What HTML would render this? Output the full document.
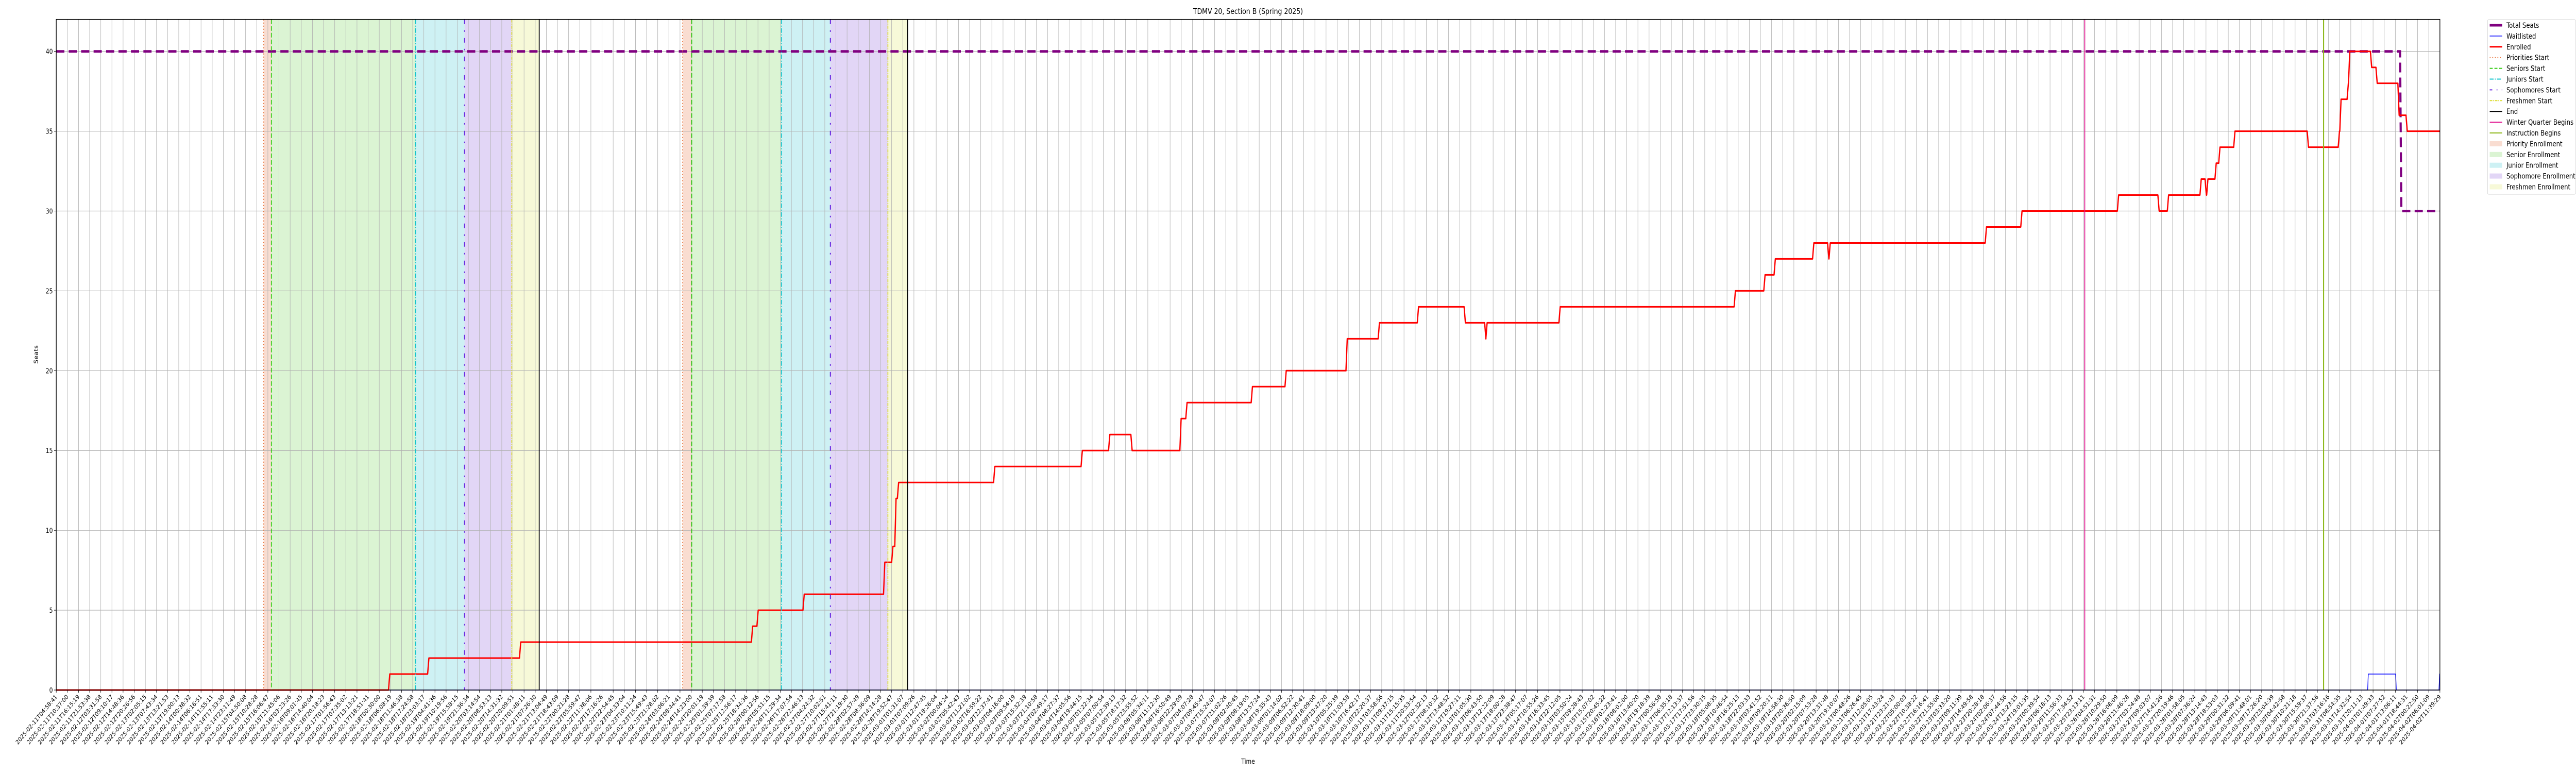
<!DOCTYPE html>
<html><head><meta charset="utf-8"><style>
html,body{margin:0;padding:0;background:#fff;width:100%;height:100%;overflow:hidden;}
svg{display:block;width:100vw;height:100vh;font-family:"DejaVu Sans","Liberation Sans",sans-serif;}
</style></head><body>
<svg id="chart" viewBox="0 0 6000 1500" preserveAspectRatio="none" xmlns="http://www.w3.org/2000/svg" overflow="hidden">
<rect width="6000" height="1500" fill="#fff"/>
<g id="shades"></g>
<g id="grid"></g>
<g id="series"></g>
<g id="vlines"></g>
<rect x="131" y="37.7" width="5552" height="1301.3" fill="none" stroke="#000" stroke-width="1.5"/>
<g id="axes"></g>
<text x="2907" y="27" font-size="15" text-anchor="middle">TDMV 20, Section B (Spring 2025)</text>
<text x="2907" y="1482" font-size="13" text-anchor="middle">Time</text>
<text x="88" y="688" font-size="13" text-anchor="middle" transform="rotate(-90 88 688)">Seats</text>
<g id="legend"></g>
</svg>
<script>
// ---- data (hours since 2025-02-11T04:58:41) ----
const startTime = "2025-02-11T04:58:41";
const endHours = 1206.68;
const tickCount = 215;
const yTicks = [0,5,10,15,20,25,30,35,40];
const enrolledTimes = [0,168.2,188.0,234.5,351.9,354.7,378.0,418.8,422.9,424.5,425.8,474.5,518.8,532.7,544.0,568.8,571.8,604.9,622.0,652.9,669.2,689.0,712.7,723.1,723.7,760.7,849.4,864.4,869.6,889.1,896.7,897.4,976.5,994.5,1043.4,1063.9,1068.7,1085.2,1087.8,1088.6,1092.8,1094.7,1102.3,1139.5,1155.2,1156.0,1159.7,1160.4,1171.5,1174.3,1185.4,1189.5];
const enrolledValues = [0,1,2,3,4,5,6,8,9,12,13,14,15,16,15,17,18,19,20,22,23,24,23,22,23,24,25,26,27,28,27,28,29,30,31,30,31,32,31,32,33,34,35,34,35,37,38,40,39,38,36,35];
const seatTimes = [0,1186.5];
const seatValues = [40,30];
const waitTimes = [0,1170.1,1184.3,1206.2];
const waitValues = [0,1,0,1];
const milestoneNames = ["Priorities Start","Seniors Start","Juniors Start","Sophomores Start","Freshmen Start","End"];
const round1 = [105.0,108.9,181.9,206.7,230.6,244.5];
const round2 = [317.1,321.7,367.1,391.9,421.0,431.0];
const winterBegins = 1026.9;
const instructionBegins = 1147.8;

// ---- scales ----
const X0=131,X1=5683,Y0=1339,Y1=37.7,YMAX=42;
const xs=t=>X0+(t/endHours)*(X1-X0);
const ys=v=>Y0-(v/YMAX)*(Y0-Y1);
const NS="http://www.w3.org/2000/svg";
function mk(tag,attrs,parent){const e=document.createElementNS(NS,tag);for(const k in attrs)e.setAttribute(k,attrs[k]);parent.appendChild(e);return e;}
const gS=document.getElementById('shades'),gG=document.getElementById('grid'),gSe=document.getElementById('series'),gV=document.getElementById('vlines'),gA=document.getElementById('axes'),gL=document.getElementById('legend');

const shadeColors=["rgba(233,120,70,0.25)","rgba(110,210,80,0.25)","rgba(60,200,210,0.25)","rgba(140,90,220,0.25)","rgba(225,230,100,0.25)"];
const shadeNames=["priority-enrollment","senior-enrollment","junior-enrollment","sophomore-enrollment","freshmen-enrollment"];
const lineStyles=[
 {c:"#e8743b",d:"2 4",w:2},{c:"#33cc11",d:"9 4",w:2},{c:"#11c4cc",d:"9 3 2 3",w:2},
 {c:"#6a2be0",d:"9 12 3 12",w:2.5},{c:"#dddd33",d:"6 2 2 2",w:2},{c:"#000",d:"",w:2}];
[round1,round2].forEach((r,ri)=>{
 for(let i=0;i<5;i++){
  const e=mk('rect',{x:xs(r[i]),y:Y1,width:xs(r[i+1])-xs(r[i]),height:Y0-Y1,fill:shadeColors[i]},gS);
  
  
 }
 for(let i=0;i<6;i++){
  const s=lineStyles[i];
  const e=mk('line',{x1:xs(r[i]),x2:xs(r[i]),y1:Y1,y2:Y0,stroke:s.c,'stroke-width':s.w,'stroke-dasharray':s.d},gV);
  
  
 }
});
let e=mk('line',{x1:xs(winterBegins),x2:xs(winterBegins),y1:Y1,y2:Y0,stroke:"#e0158f",'stroke-width':2},gV);


e=mk('line',{x1:xs(instructionBegins),x2:xs(instructionBegins),y1:Y1,y2:Y0,stroke:"#8db81a",'stroke-width':2.5},gV);



// ticks
const t0=Date.UTC(2025,1,11,4,58,41);
const tickLabels=[];
for(let i=0;i<tickCount;i++){const d=new Date(t0+ (i/(tickCount-1))*endHours*3600000);tickLabels.push(d.toISOString().slice(0,19));}
tickLabels.forEach((lab,i)=>{
 const t=i/(tickCount-1)*endHours,x=xs(t);
 const g=mk('line',{x1:x,x2:x,y1:Y1,y2:Y0,stroke:"#b0b0b0",'stroke-width':1},gG);
 
 
 mk('line',{x1:x,x2:x,y1:Y0,y2:Y0+5,stroke:"#000",'stroke-width':1},gA);
 const tx=mk('text',{x:x+3,y:Y0+14,'font-size':12,'text-anchor':'end',transform:`rotate(-45 ${x+3} ${Y0+14})`},gA);
 
 
 tx.textContent=lab;
});
yTicks.forEach(v=>{
 const y=ys(v);
 const g=mk('line',{x1:X0,x2:X1,y1:y,y2:y,stroke:"#b0b0b0",'stroke-width':1.2},gG);
 
 
 mk('line',{x1:X0-5,x2:X0,y1:y,y2:y,stroke:"#000",'stroke-width':1},gA);
 const tx=mk('text',{x:X0-8,y:y+5,'font-size':13,'text-anchor':'end'},gA);
 
 
 tx.textContent=v;
});

function stepPts(ts,vs,ramp){
 let p=[];
 for(let i=0;i<ts.length;i++){
  if(i>0)p.push([xs(ts[i]),ys(vs[i-1])]);
  p.push([xs(ts[i])+(i>0?ramp:0),ys(vs[i])]);
 }
 p.push([xs(endHours),ys(vs[vs.length-1])]);
 return p.map(a=>a[0].toFixed(1)+','+a[1].toFixed(1)).join(' ');
}
e=mk('polyline',{points:stepPts(seatTimes,seatValues,3),fill:'none',stroke:'#800080','stroke-width':5,'stroke-dasharray':'19 10'},gSe);


e=mk('polyline',{points:stepPts(waitTimes,waitValues,1.5),fill:'none',stroke:'#0000ff','stroke-width':1.5},gSe);


e=mk('polyline',{points:stepPts(enrolledTimes,enrolledValues,3),fill:'none',stroke:'#ff0000','stroke-width':3,'stroke-linejoin':'round'},gSe);



// legend
mk('rect',{x:5794,y:38,width:205,height:339,rx:3,fill:'#fff',stroke:'#d0d0d0','stroke-width':1,opacity:0.9},gL);
const legendItems=[
 {t:"Total Seats",k:'line',c:"#800080",w:5,d:""},
 {t:"Waitlisted",k:'line',c:"#0000ff",w:1.5,d:""},
 {t:"Enrolled",k:'line',c:"#ff0000",w:3,d:""},
 {t:"Priorities Start",k:'line',c:"#e8743b",w:2,d:"2 4"},
 {t:"Seniors Start",k:'line',c:"#33cc11",w:2,d:"7 4"},
 {t:"Juniors Start",k:'line',c:"#11c4cc",w:2,d:"9 3 2 3"},
 {t:"Sophomores Start",k:'line',c:"#6a2be0",w:2,d:"6 10 2 10"},
 {t:"Freshmen Start",k:'line',c:"#dddd33",w:2,d:"6 2 2 2"},
 {t:"End",k:'line',c:"#000",w:2,d:""},
 {t:"Winter Quarter Begins",k:'line',c:"#e0158f",w:2,d:""},
 {t:"Instruction Begins",k:'line',c:"#8db81a",w:2,d:""},
 {t:"Priority Enrollment",k:'rect',c:shadeColors[0]},
 {t:"Senior Enrollment",k:'rect',c:shadeColors[1]},
 {t:"Junior Enrollment",k:'rect',c:shadeColors[2]},
 {t:"Sophomore Enrollment",k:'rect',c:shadeColors[3]},
 {t:"Freshmen Enrollment",k:'rect',c:shadeColors[4]}];
legendItems.forEach((it,i)=>{
 const y=49+i*20.9;
 if(it.k==='line'){mk('line',{x1:5799,x2:5828,y1:y,y2:y,stroke:it.c,'stroke-width':it.w,'stroke-dasharray':it.d},gL);}
 else{mk('rect',{x:5799,y:y-5,width:29,height:10,fill:it.c},gL);}
 const tx=mk('text',{x:5838,y:y+5,'font-size':14},gL);
 
 
 tx.textContent=it.t;
});
</script>
</body></html>
